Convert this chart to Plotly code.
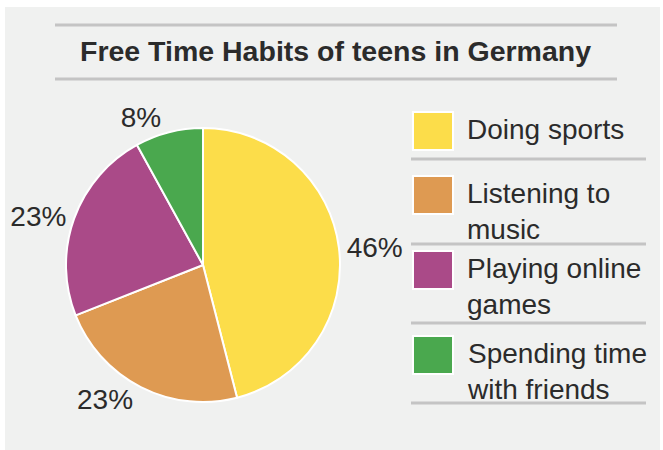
import plotly.graph_objects as go

# ---- data ----
categories = ["Doing sports", "Listening to<br>music", "Playing online<br>games", "Spending time<br>with friends"]
shares = [46, 23, 23, 8]
colors = ["#FCDD4A", "#DE9A52", "#AA4A88", "#4AA84E"]
chart_title = "Free Time Habits of teens in Germany"

# ---- layout helpers (pixel -> paper) ----
W, H = 663, 450
def px(x):
    return x / W
def py(y):
    return 1 - y / H

FONT = "Liberation Sans, Arial, Helvetica, sans-serif"
TXT = "#2b2b2b"
RULE = "#c4c4c4"

fig = go.Figure(go.Pie(
    labels=categories,
    values=shares,
    sort=False,
    direction="clockwise",
    rotation=0,
    marker=dict(colors=colors, line=dict(color="white", width=2)),
    texttemplate="%{value}%",
    textposition="outside",
    textfont=dict(size=28, color=TXT, family=FONT),
    domain=dict(x=[px(66), px(340)], y=[py(402), py(128)]),
    showlegend=False,
    hoverinfo="label+percent",
))

shapes = [
    # panel background
    dict(type="rect", xref="paper", yref="paper", x0=px(5), x1=px(660), y0=py(450), y1=py(7),
         fillcolor="#f0f1f0", line=dict(width=0), layer="below"),
    # title rules
    dict(type="line", xref="paper", yref="paper", x0=px(55), x1=px(617), y0=py(25), y1=py(25),
         line=dict(color=RULE, width=3)),
    dict(type="line", xref="paper", yref="paper", x0=px(55), x1=px(617), y0=py(79), y1=py(79),
         line=dict(color=RULE, width=3)),
]
annotations = [
    dict(text="<b>" + chart_title + "</b>", xref="paper", yref="paper", x=px(335), y=py(51),
         xanchor="center", yanchor="middle", showarrow=False,
         font=dict(size=28.5, color=TXT, family=FONT)),
]

# custom legend
item_tops = [112, 176, 251, 336]
separators = [159, 244, 323, 403]
for cat, col, top, sep in zip(categories, colors, item_tops, separators):
    shapes.append(dict(type="rect", xref="paper", yref="paper", x0=px(413), x1=px(453),
                       y0=py(top + 38), y1=py(top), fillcolor=col, line=dict(color="white", width=2)))
    shapes.append(dict(type="line", xref="paper", yref="paper", x0=px(411), x1=px(646),
                       y0=py(sep), y1=py(sep), line=dict(color=RULE, width=3)))
    annotations.append(dict(text=cat, xref="paper", yref="paper", x=px(465), y=py(top),
                            xanchor="left", yanchor="top", align="left", showarrow=False,
                            font=dict(size=28, color=TXT, family=FONT)))

fig.update_layout(
    width=W, height=H,
    margin=dict(l=0, r=0, t=0, b=0),
    paper_bgcolor="white",
    plot_bgcolor="white",
    shapes=shapes,
    annotations=annotations,
    showlegend=False,
)

fig.write_html("out.html",
               config={"displayModeBar": False},
               post_script="document.body.style.margin='0';document.body.style.padding='0';")
